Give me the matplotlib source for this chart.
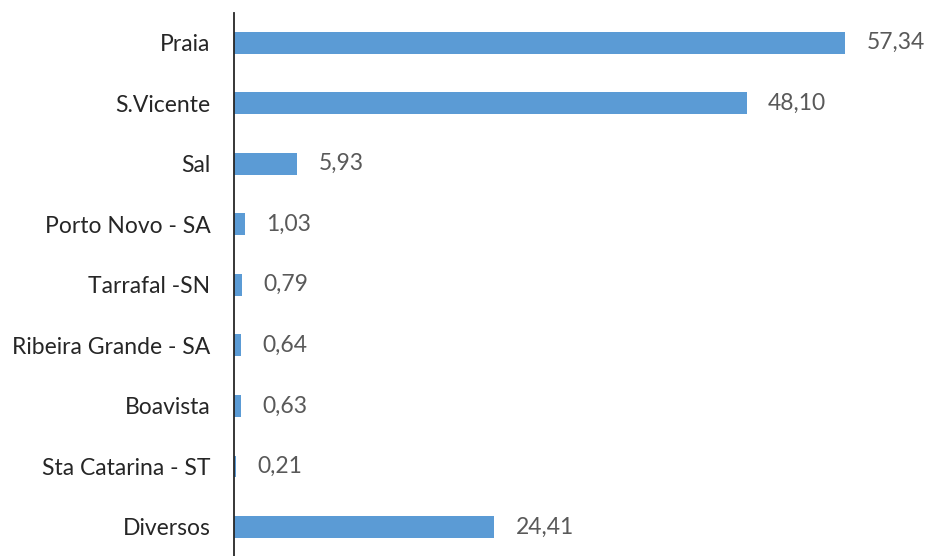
import matplotlib.pyplot as plt

plt.rcParams['font.family'] = ['Lato', 'DejaVu Sans']

categories = ["Praia", "S.Vicente", "Sal", "Porto Novo - SA", "Tarrafal -SN",
              "Ribeira Grande - SA", "Boavista", "Sta Catarina - ST", "Diversos"]
values = [57.34, 48.10, 5.93, 1.03, 0.79, 0.64, 0.63, 0.21, 24.41]
labels = ["57,34", "48,10", "5,93", "1,03", "0,79", "0,64", "0,63", "0,21", "24,41"]

fig = plt.figure(figsize=(9.28, 5.56), dpi=100)
ax = fig.add_axes([234 / 928, 0, 1 - 234 / 928, 1 - 13 / 556])

pos = list(range(len(categories)))
ax.barh(pos, values, height=0.36, color="#5B9BD5")
for p, v, t in zip(pos, values, labels):
    ax.text(v + 2.0, p, t, va="center", ha="left", fontsize=16.5, color="#595959")

ax.set_xlim(0, 65.1)
ax.set_ylim(8.48, -0.49)
ax.set_yticks(pos)
ax.set_yticklabels(categories, fontsize=16.5, color="#262626")
ax.tick_params(axis="y", length=0, pad=17)
ax.set_xticks([])
for s in ["top", "right", "bottom"]:
    ax.spines[s].set_visible(False)
ax.spines["left"].set_color("#262626")
ax.spines["left"].set_linewidth(1.3)

fig.savefig("out.png", dpi=100)
